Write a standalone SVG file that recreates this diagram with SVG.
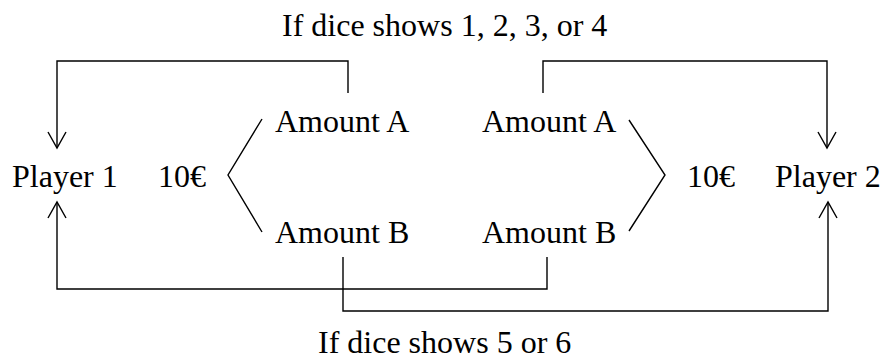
<svg xmlns="http://www.w3.org/2000/svg" width="883" height="362" viewBox="0 0 883 362">
<style>
text{font-family:"Liberation Serif","Times New Roman",serif;font-size:32px;fill:#000}
.c{fill:none;stroke:#000;stroke-width:1.4}
</style>
<rect width="883" height="362" fill="#fff"/>
<g id="labels">
<text x="282" y="36">If dice shows 1, 2, 3, or 4</text>
<text x="318" y="353">If dice shows 5 or 6</text>
</g>
<g id="player1"><text x="12" y="187">Player 1</text></g>
<g id="money1"><text x="158" y="187">10€</text></g>
<g id="amountA1"><text x="275" y="132">Amount A</text></g>
<g id="amountB1"><text x="275" y="243">Amount B</text></g>
<g id="amountA2"><text x="482" y="132">Amount A</text></g>
<g id="amountB2"><text x="482" y="243">Amount B</text></g>
<g id="money2"><text x="687" y="187">10€</text></g>
<g id="player2"><text x="775" y="187">Player 2</text></g>
<g id="connectors" class="c">
<polyline class="c" points="262,119 228,175 262,232"/>
<polyline class="c" points="629,120 665,175 629,231"/>
<polyline class="c" points="348,93 348,61 57,61 57,148"/>
<polyline class="c" points="48,132 57,148 66,132"/>
<polyline class="c" points="543,93 543,61 827,61 827,148"/>
<polyline class="c" points="818,132 827,148 836,132"/>
<polyline class="c" points="547,257 547,289 57,289 57,202"/>
<polyline class="c" points="48,218 57,202 66,218"/>
<polyline class="c" points="343,257 343,311 828,311 828,202"/>
<polyline class="c" points="819,218 828,202 837,218"/>
</g>
</svg>
